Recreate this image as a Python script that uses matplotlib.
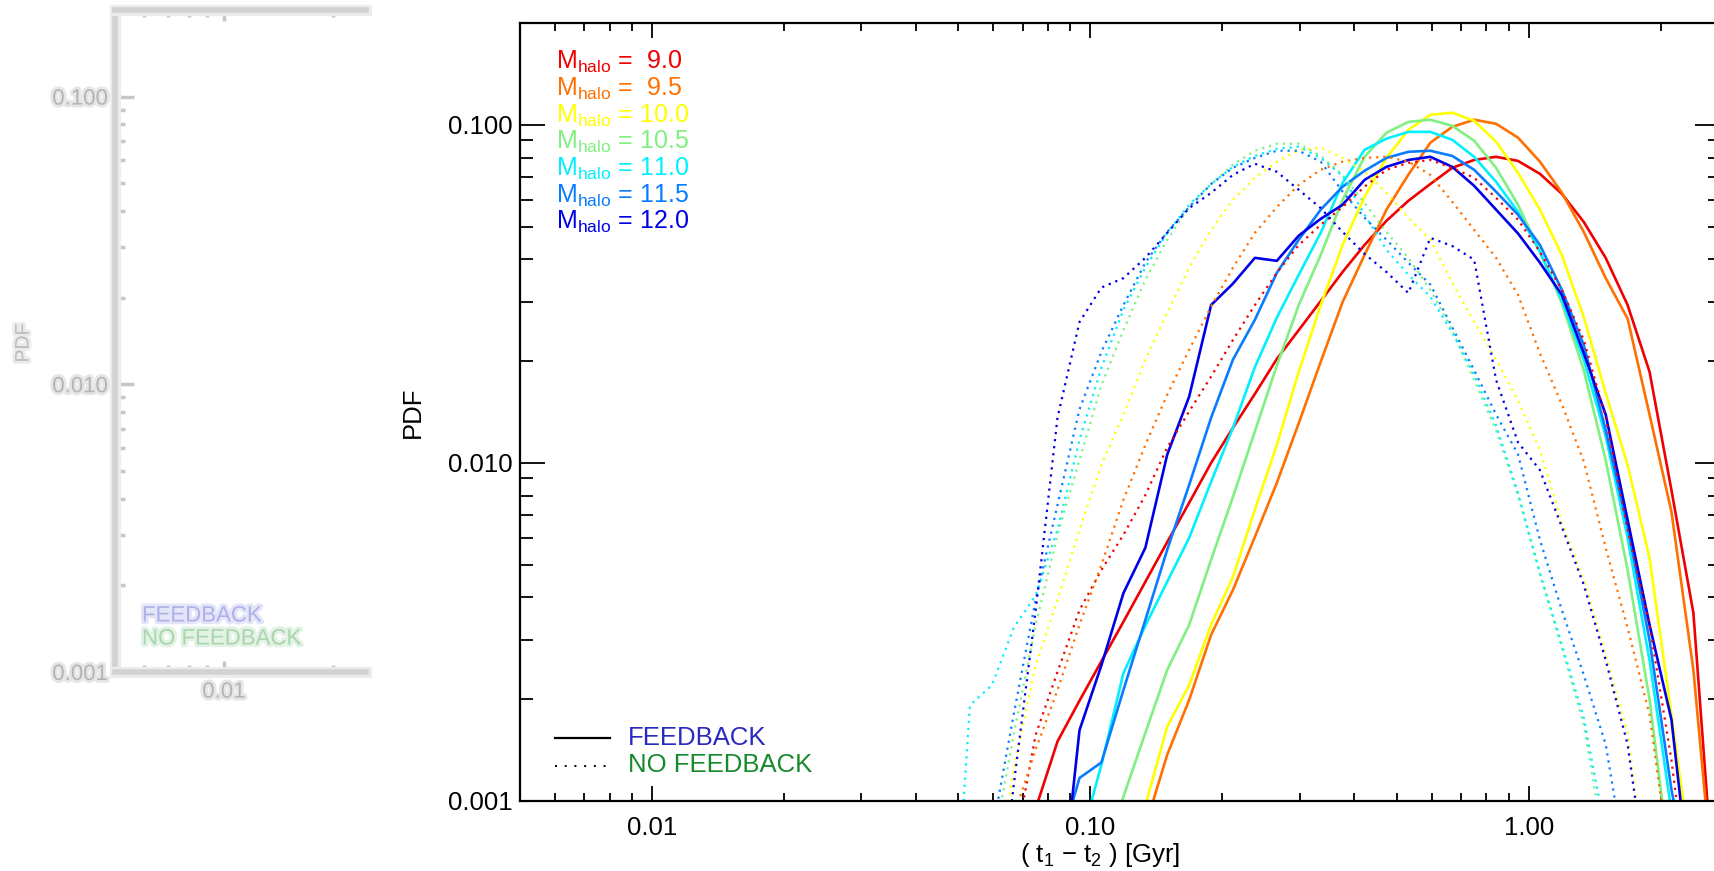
import numpy as np
import matplotlib
matplotlib.use('Agg')
import matplotlib.pyplot as plt
import matplotlib.ticker as mticker
import matplotlib.patheffects as pe

plt.rcParams['font.family'] = ['Liberation Sans', 'DejaVu Sans']
plt.rcParams['mathtext.fontset'] = 'custom'
plt.rcParams['mathtext.rm'] = 'Liberation Sans'
plt.rcParams['mathtext.it'] = 'Liberation Sans:italic'
plt.rcParams['mathtext.default'] = 'regular'

# bin centres of (t1 - t2) in Gyr
t_bins = [0.0473, 0.0531, 0.0596, 0.0668, 0.0750, 0.0841, 0.0944, 0.1059, 0.1189,
          0.1334, 0.1496, 0.1679, 0.1884, 0.2113, 0.2371, 0.2661, 0.2985, 0.3350,
          0.3758, 0.4217, 0.4732, 0.5309, 0.5957, 0.6683, 0.7499, 0.8414, 0.9441,
          1.0593, 1.1885, 1.3335, 1.4962, 1.6788, 1.8836, 2.1135, 2.3714, 2.6607]

halo_mass = ['9.0', '9.5', '10.0', '10.5', '11.0', '11.5', '12.0']
mass_colors = ['#f00000', '#ff7000', '#ffff00', '#80f080', '#00f0ff', '#0a7cff', '#0000e6']

# PDF with feedback (solid); first bin index for each curve
fb_start = [4, 9, 8, 7, 6, 5, 5]
fb_pdf = [
    [0.00095, 0.0015, 0.00198, 0.00259, 0.00339, 0.00445, 0.00583, 0.00762, 0.0100, 0.0127,
     0.0160, 0.0203, 0.0247, 0.0301, 0.0367, 0.0441, 0.0520, 0.0596, 0.0668, 0.0746, 0.0787,
     0.0804, 0.0782, 0.0716, 0.0625, 0.0516, 0.0404, 0.0293, 0.0186, 0.0083, 0.0036, 0.00048],
    [0.00084, 0.00137, 0.00199, 0.00310, 0.00421, 0.00604, 0.00873, 0.0131, 0.0199, 0.0299,
     0.0412, 0.0561, 0.0712, 0.0885, 0.0986, 0.1035, 0.1007, 0.0916, 0.0778, 0.0630, 0.0482,
     0.0352, 0.0267, 0.0139, 0.00716, 0.00244, 0.00048],
    [0.00056, 0.00097, 0.00166, 0.00220, 0.00332, 0.00460, 0.00727, 0.0113, 0.0186, 0.0293,
     0.0441, 0.0612, 0.0798, 0.0966, 0.107, 0.1086, 0.1028, 0.0891, 0.0721, 0.0561, 0.0412,
     0.0270, 0.0161, 0.00986, 0.00523, 0.00180, 0.00060],
    [0.00067, 0.00103, 0.00159, 0.00244, 0.00332, 0.00517, 0.00793, 0.0124, 0.0194, 0.0293,
     0.0412, 0.0600, 0.0804, 0.0947, 0.102, 0.1035, 0.0993, 0.0897, 0.0746, 0.0580, 0.0421,
     0.0297, 0.0188, 0.0102, 0.00482, 0.00200, 0.00060],
    [0.00074, 0.00128, 0.00239, 0.00330, 0.00445, 0.0060, 0.00879, 0.0127, 0.0192, 0.0269,
     0.036, 0.0479, 0.0673, 0.0843, 0.0910, 0.0953, 0.0953, 0.0903, 0.0804, 0.0678, 0.0553,
     0.0421, 0.0303, 0.0202, 0.0120, 0.0060, 0.00261, 0.00093, 0.0004],
    [0.0007, 0.00117, 0.00130, 0.00213, 0.00343, 0.00553, 0.00861, 0.0136, 0.0202, 0.0265,
     0.0365, 0.0457, 0.0561, 0.0656, 0.0731, 0.0798, 0.0832, 0.0838, 0.0809, 0.0736, 0.0634,
     0.0542, 0.0441, 0.0325, 0.0223, 0.0125, 0.0065, 0.00299, 0.00108, 0.0005],
    [0.0004, 0.00162, 0.00252, 0.00412, 0.00561, 0.01057, 0.0157, 0.0293, 0.0339, 0.0404,
     0.0396, 0.0470, 0.0527, 0.0580, 0.0687, 0.0751, 0.0787, 0.0804, 0.0751, 0.0660, 0.0561,
     0.0477, 0.0391, 0.0314, 0.0211, 0.0139, 0.00678, 0.00332, 0.00174, 0.00046],
]

# PDF without feedback (dotted)
nofb_start = [3, 3, 2, 2, 0, 2, 2]
nofb_pdf = [
    [0.0007, 0.00157, 0.00241, 0.00367, 0.00482, 0.00613, 0.00803, 0.0111, 0.0142, 0.0180,
     0.0231, 0.0293, 0.0365, 0.0441, 0.0506, 0.0571, 0.0656, 0.0736, 0.0772, 0.0787, 0.0746,
     0.0697, 0.0608, 0.0524, 0.0421, 0.0325, 0.0231, 0.0136, 0.00634, 0.00332, 0.00132, 0.0004],
    [0.0009, 0.00142, 0.00213, 0.00332, 0.00499, 0.00778, 0.0113, 0.0159, 0.0216, 0.029,
     0.0378, 0.0479, 0.0571, 0.0664, 0.0736, 0.0778, 0.0798, 0.0804, 0.0778, 0.0711, 0.0592,
     0.0489, 0.0404, 0.0314, 0.0211, 0.0149, 0.0101, 0.00561, 0.00325, 0.0018, 0.0006],
    [0.0005, 0.00124, 0.00252, 0.00394, 0.00634, 0.00986, 0.0139, 0.0202, 0.0278, 0.0378,
     0.0489, 0.0600, 0.0697, 0.0778, 0.0843, 0.0855, 0.0798, 0.0726, 0.0629, 0.0531, 0.0457,
     0.0341, 0.0261, 0.0202, 0.0153, 0.0109, 0.00669, 0.00451, 0.0027, 0.00159, 0.0005],
    [0.0007, 0.00157, 0.00332, 0.00613, 0.0102, 0.017, 0.0247, 0.0348, 0.0457, 0.0571,
     0.0668, 0.0762, 0.0838, 0.0879, 0.0879, 0.0809, 0.0711, 0.0587, 0.0482, 0.0404, 0.0325,
     0.0247, 0.0176, 0.0125, 0.00803, 0.00467, 0.00284, 0.00168, 0.0007],
    [0.0002, 0.00192, 0.00220, 0.00325, 0.00406, 0.00634, 0.0117, 0.0191, 0.0284, 0.0378,
     0.0479, 0.0580, 0.0668, 0.0751, 0.0809, 0.0849, 0.0861, 0.0798, 0.0706, 0.0542, 0.0427,
     0.036, 0.031, 0.0243, 0.0182, 0.0129, 0.00815, 0.00473, 0.0029, 0.00176, 0.0008],
    [0.0008, 0.0018, 0.00394, 0.00751, 0.0144, 0.0213, 0.0293, 0.0391, 0.0482, 0.0571,
     0.0668, 0.0746, 0.0798, 0.0838, 0.0838, 0.0778, 0.0634, 0.0531, 0.0457, 0.0391, 0.0337,
     0.0252, 0.0188, 0.0139, 0.0106, 0.00592, 0.00367, 0.00236, 0.00147, 0.0006],
    [0.0003, 0.00111, 0.00367, 0.0136, 0.0261, 0.033, 0.0352, 0.0404, 0.0479, 0.0567,
     0.0629, 0.0711, 0.0767, 0.0726, 0.0642, 0.0567, 0.0482, 0.0415, 0.0367, 0.0318, 0.0463,
     0.0438, 0.0399, 0.0176, 0.0115, 0.00952, 0.00647, 0.00436, 0.00261, 0.00147, 0.0005],
]

W, H = 1714, 871
fig = plt.figure(figsize=(W / 100, H / 100), dpi=100)


def fx(x):
    return x / W


def fy(y):
    return 1 - y / H


def log_axes(ax, xticks, xlabels, yticks, ylabels):
    ax.set_xscale('log')
    ax.set_yscale('log')
    ax.xaxis.set_major_locator(mticker.FixedLocator(xticks))
    ax.xaxis.set_major_formatter(mticker.FixedFormatter(xlabels))
    ax.yaxis.set_major_locator(mticker.FixedLocator(yticks))
    ax.yaxis.set_major_formatter(mticker.FixedFormatter(ylabels))
    for axis in (ax.xaxis, ax.yaxis):
        axis.set_minor_locator(mticker.LogLocator(base=10, subs=np.arange(2, 10) * 1.0, numticks=30))
        axis.set_minor_formatter(mticker.NullFormatter())


# blurred ghost panel on the left
ax0 = fig.add_axes([fx(115), 1 - 672 / H, (366 - 115) / W, (672 - 10) / H])
log_axes(ax0, [0.01, 0.1], ['0.01', '0.10'], [0.001, 0.01, 0.1], ['0.001', '0.010', '0.100'])
ax0.set_xlim(0.005, 0.005 * 10 ** (251 / 362))
ax0.set_ylim(0.001, 0.2)
ghost = '#c6c6c6'
blur = [pe.Stroke(linewidth=8, foreground='#ececec'), pe.Stroke(linewidth=4, foreground='#d2d2d2')]
for side in ('left', 'top', 'bottom'):
    ax0.spines[side].set_color(ghost)
    ax0.spines[side].set_linewidth(4)
    ax0.spines[side].set_path_effects(blur)
ax0.spines['right'].set_visible(False)
ax0.tick_params(which='both', direction='in', top=True, right=False, color=ghost, width=2.5,
                labelcolor='#b4b4b4', labelsize=16)
ax0.tick_params(axis='y', which='major', length=14, pad=5)
ax0.tick_params(axis='y', which='minor', length=7)
ax0.tick_params(axis='x', which='major', length=8, pad=7)
ax0.tick_params(axis='x', which='minor', length=5)
for lab in ax0.get_xticklabels() + ax0.get_yticklabels():
    lab.set_path_effects([pe.withStroke(linewidth=4, foreground='#e6e6e6')])
soft = [pe.withStroke(linewidth=4, foreground='#ebebeb')]
fig.text(fx(24), fy(343), 'PDF', rotation=90, ha='center', va='center', fontsize=14,
         color='#bcbcbc', path_effects=soft)
fig.text(fx(142), fy(616), 'FEEDBACK', ha='left', va='center', fontsize=16,
         color='#aeb0ea', path_effects=[pe.withStroke(linewidth=4, foreground='#e4e5f8')])
fig.text(fx(142), fy(639), 'NO FEEDBACK', ha='left', va='center', fontsize=16,
         color='#a9d6ae', path_effects=[pe.withStroke(linewidth=4, foreground='#e2f2e4')])

# main panel
ax = fig.add_axes([fx(520), 70 / H, 1200 / W, 778 / H])
log_axes(ax, [0.01, 0.1, 1.0], ['0.01', '0.10', '1.00'], [0.001, 0.01, 0.1], ['0.001', '0.010', '0.100'])

for c, s, y in zip(mass_colors, fb_start, fb_pdf):
    ax.plot(t_bins[s:s + len(y)], y, color=c, lw=1.9)
for c, s, y in zip(mass_colors, nofb_start, nofb_pdf):
    ax.plot(t_bins[s:s + len(y)], y, color=c, lw=1.6, linestyle=(0, (1, 2.2)))

ax.set_xlim(0.005, 2.727)
ax.set_ylim(0.001, 0.2)
for sp in ax.spines.values():
    sp.set_linewidth(1.6)
ax.tick_params(which='both', direction='in', top=True, right=True, width=1.3, labelsize=18.5)
ax.tick_params(axis='x', which='major', length=11, pad=11)
ax.tick_params(axis='x', which='minor', length=5.5)
ax.tick_params(axis='y', which='major', length=18, pad=5.5)
ax.tick_params(axis='y', which='minor', length=9)

fig.text(fx(413), fy(412), 'PDF', rotation=90, ha='center', va='center', fontsize=18.5)
fig.text(fx(1100), fy(855), '( t$_1$ \u2212 t$_2$ ) [Gyr]', ha='center', va='center', fontsize=18.5)

# halo mass key
for i, (m, c) in enumerate(zip(halo_mass, mass_colors)):
    val = m if len(m) == 4 else ' ' + m
    fig.text(fx(556), fy(69 + 26.67 * i), 'M$_{halo}$ = ' + val, color=c, fontsize=18,
             ha='left', va='baseline')

# line style key
fig.add_artist(plt.Line2D([fx(555), fx(610)], [fy(738), fy(738)], color='black', lw=1.6))
fig.add_artist(plt.Line2D([fx(555), fx(607)], [fy(766), fy(766)], color='black', lw=1.4,
                          linestyle=(0, (1, 4))))
fig.text(fx(628), fy(745), 'FEEDBACK', color='#2a2ac0', fontsize=18.5, ha='left', va='baseline')
fig.text(fx(628), fy(772), 'NO FEEDBACK', color='#168a2c', fontsize=18.5, ha='left', va='baseline')

fig.savefig('out.png', dpi=100)
